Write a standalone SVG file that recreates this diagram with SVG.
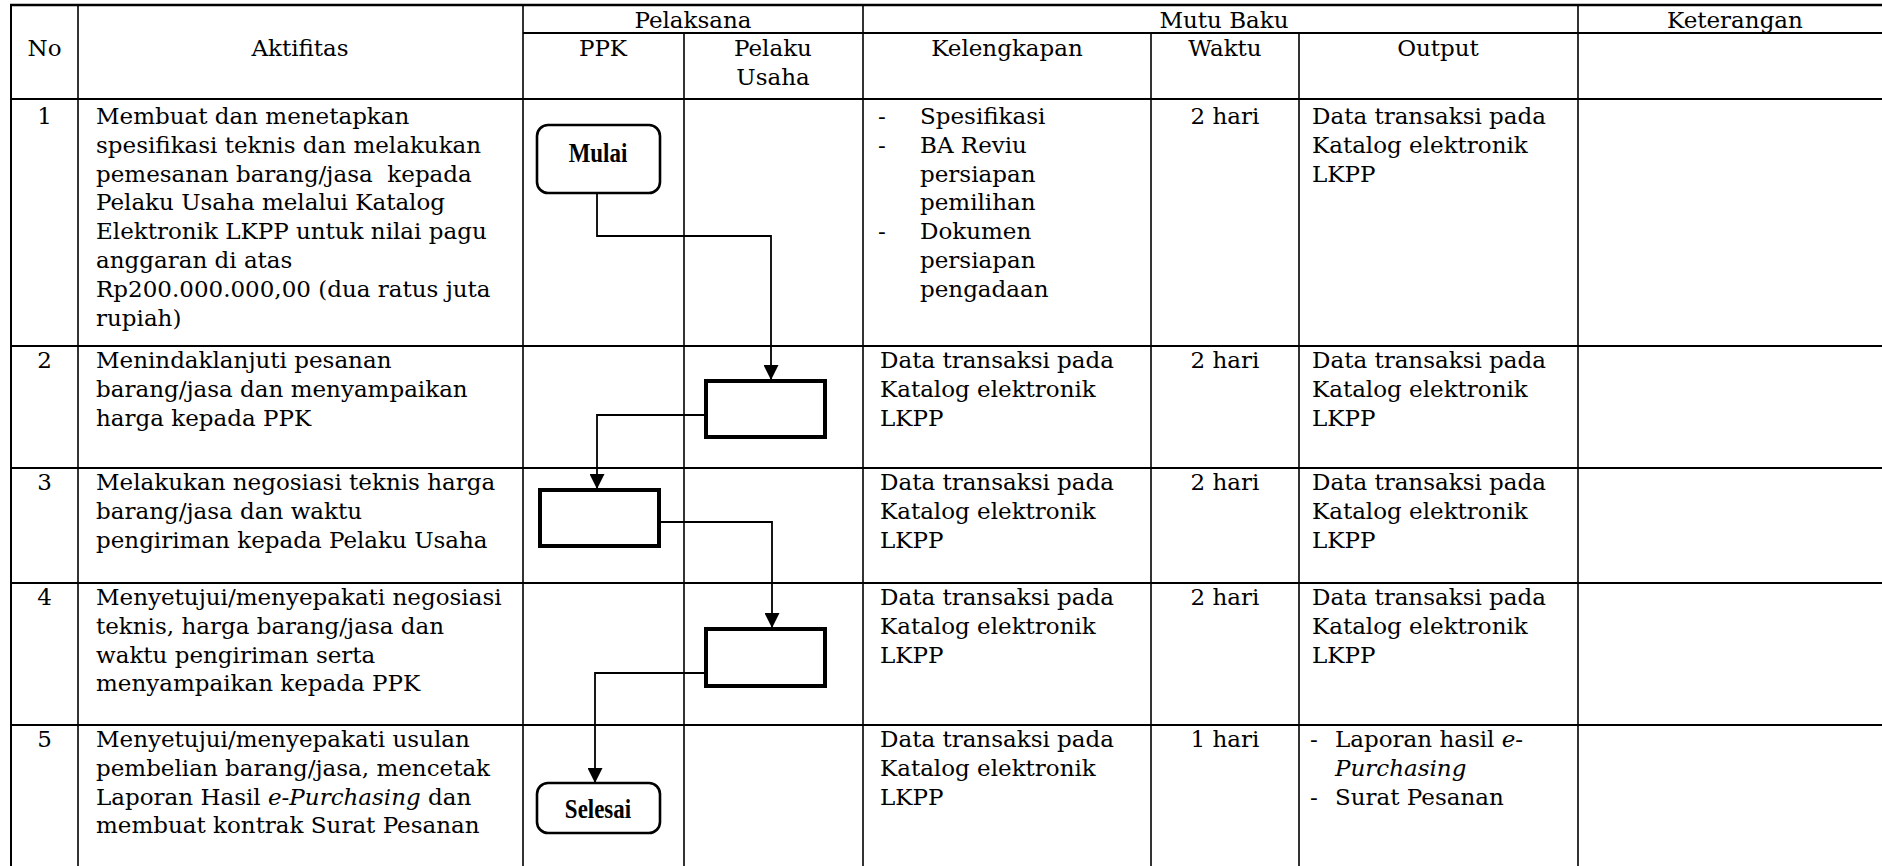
<svg xmlns="http://www.w3.org/2000/svg" width="1882" height="866" viewBox="0 0 1882 866">
<style>
.bg{fill:#fff}
.h{stroke:#000;stroke-width:2}
.v{stroke:#000;stroke-width:1.6}
.t{font-family:"DejaVu Serif","Liberation Serif",serif;font-size:23px;fill:#000}
.c{text-anchor:middle}
.i{font-style:italic}
.lbl{font-family:"Liberation Serif","Times New Roman",serif;font-weight:bold;font-size:27px;fill:#000;text-anchor:middle}
.term{fill:#fff;stroke:#000;stroke-width:2.6}
.proc{fill:#fff;stroke:#000;stroke-width:4}
.conn{fill:none;stroke:#000;stroke-width:1.8}
</style>
<defs>
<marker id="arrow" viewBox="0 0 16 16" refX="16" refY="8" markerWidth="16" markerHeight="15" markerUnits="userSpaceOnUse" orient="auto">
<path d="M0,0 L16,8 L0,16 Z" fill="#000"/>
</marker>
</defs>
<rect class="bg" x="0" y="0" width="1882" height="866"/>

<g id="grid">
<line class="h" x1="10" y1="5" x2="1882" y2="5" style="stroke-width:2.6"/>
<line class="h" x1="523" y1="33" x2="1882" y2="33"/>
<line class="h" x1="10" y1="99" x2="1882" y2="99"/>
<line class="h" x1="10" y1="346" x2="1882" y2="346"/>
<line class="h" x1="10" y1="468" x2="1882" y2="468"/>
<line class="h" x1="10" y1="583" x2="1882" y2="583"/>
<line class="h" x1="10" y1="725" x2="1882" y2="725"/>
<line class="v" x1="11" y1="4" x2="11" y2="866" style="stroke-width:2"/>
<line class="v" x1="78" y1="5" x2="78" y2="866"/>
<line class="v" x1="523" y1="5" x2="523" y2="866"/>
<line class="v" x1="684" y1="33" x2="684" y2="866"/>
<line class="v" x1="863" y1="5" x2="863" y2="866"/>
<line class="v" x1="1151" y1="33" x2="1151" y2="866"/>
<line class="v" x1="1299" y1="33" x2="1299" y2="866"/>
<line class="v" x1="1578" y1="5" x2="1578" y2="866"/>
</g>

<g id="header">
<text class="t c" x="693" y="28">Pelaksana</text>
<text class="t c" x="1224" y="28">Mutu Baku</text>
<text class="t c" x="1735" y="28">Keterangan</text>
<text class="t c" x="44.5" y="56">No</text>
<text class="t c" x="300" y="56">Aktifitas</text>
<text class="t c" x="603" y="56">PPK</text>
<text class="t c" x="773" y="56">Pelaku</text>
<text class="t c" x="773" y="84.5">Usaha</text>
<text class="t c" x="1007" y="56">Kelengkapan</text>
<text class="t c" x="1225" y="56">Waktu</text>
<text class="t c" x="1438" y="56">Output</text>
</g>

<g id="row1">
<text class="t c" x="44.5" y="124">1</text>
<text class="t" x="96" y="124">Membuat dan menetapkan</text>
<text class="t" x="96" y="152.8">spesifikasi teknis dan melakukan</text>
<text class="t" x="96" y="181.6">pemesanan barang/jasa &#160;kepada</text>
<text class="t" x="96" y="210.4">Pelaku Usaha melalui Katalog</text>
<text class="t" x="96" y="239.2">Elektronik LKPP untuk nilai pagu</text>
<text class="t" x="96" y="268">anggaran di atas</text>
<text class="t" x="96" y="296.8">Rp200.000.000,00 (dua ratus juta</text>
<text class="t" x="96" y="325.6">rupiah)</text>
<text class="t" x="878" y="124">-</text>
<text class="t" x="920" y="124">Spesifikasi</text>
<text class="t" x="878" y="152.8">-</text>
<text class="t" x="920" y="152.8">BA Reviu</text>
<text class="t" x="920" y="181.6">persiapan</text>
<text class="t" x="920" y="210.4">pemilihan</text>
<text class="t" x="878" y="239.2">-</text>
<text class="t" x="920" y="239.2">Dokumen</text>
<text class="t" x="920" y="268">persiapan</text>
<text class="t" x="920" y="296.8">pengadaan</text>
<text class="t c" x="1225" y="124">2 hari</text>
<text class="t" x="1312" y="124">Data transaksi pada</text>
<text class="t" x="1312" y="152.8">Katalog elektronik</text>
<text class="t" x="1312" y="181.6">LKPP</text>
</g>

<g id="row2">
<text class="t c" x="44.5" y="368">2</text>
<text class="t" x="96" y="368">Menindaklanjuti pesanan</text>
<text class="t" x="96" y="396.8">barang/jasa dan menyampaikan</text>
<text class="t" x="96" y="425.6">harga kepada PPK</text>
<text class="t" x="880" y="368">Data transaksi pada</text>
<text class="t" x="880" y="396.8">Katalog elektronik</text>
<text class="t" x="880" y="425.6">LKPP</text>
<text class="t c" x="1225" y="368">2 hari</text>
<text class="t" x="1312" y="368">Data transaksi pada</text>
<text class="t" x="1312" y="396.8">Katalog elektronik</text>
<text class="t" x="1312" y="425.6">LKPP</text>
</g>

<g id="row3">
<text class="t c" x="44.5" y="490">3</text>
<text class="t" x="96" y="490">Melakukan negosiasi teknis harga</text>
<text class="t" x="96" y="518.8">barang/jasa dan waktu</text>
<text class="t" x="96" y="547.6">pengiriman kepada Pelaku Usaha</text>
<text class="t" x="880" y="490">Data transaksi pada</text>
<text class="t" x="880" y="518.8">Katalog elektronik</text>
<text class="t" x="880" y="547.6">LKPP</text>
<text class="t c" x="1225" y="490">2 hari</text>
<text class="t" x="1312" y="490">Data transaksi pada</text>
<text class="t" x="1312" y="518.8">Katalog elektronik</text>
<text class="t" x="1312" y="547.6">LKPP</text>
</g>

<g id="row4">
<text class="t c" x="44.5" y="605">4</text>
<text class="t" x="96" y="605">Menyetujui/menyepakati negosiasi</text>
<text class="t" x="96" y="633.8">teknis, harga barang/jasa dan</text>
<text class="t" x="96" y="662.6">waktu pengiriman serta</text>
<text class="t" x="96" y="691.4">menyampaikan kepada PPK</text>
<text class="t" x="880" y="605">Data transaksi pada</text>
<text class="t" x="880" y="633.8">Katalog elektronik</text>
<text class="t" x="880" y="662.6">LKPP</text>
<text class="t c" x="1225" y="605">2 hari</text>
<text class="t" x="1312" y="605">Data transaksi pada</text>
<text class="t" x="1312" y="633.8">Katalog elektronik</text>
<text class="t" x="1312" y="662.6">LKPP</text>
</g>

<g id="row5">
<text class="t c" x="44.5" y="747">5</text>
<text class="t" x="96" y="747">Menyetujui/menyepakati usulan</text>
<text class="t" x="96" y="775.8">pembelian barang/jasa, mencetak</text>
<text class="t" x="96" y="804.6">Laporan Hasil <tspan class="i">e-Purchasing</tspan> dan</text>
<text class="t" x="96" y="833.4">membuat kontrak Surat Pesanan</text>
<text class="t" x="880" y="747">Data transaksi pada</text>
<text class="t" x="880" y="775.8">Katalog elektronik</text>
<text class="t" x="880" y="804.6">LKPP</text>
<text class="t c" x="1225" y="747">1 hari</text>
<text class="t" x="1310" y="747">-</text>
<text class="t" x="1335" y="747">Laporan hasil <tspan class="i">e-</tspan></text>
<text class="t i" x="1335" y="775.8">Purchasing</text>
<text class="t" x="1310" y="804.6">-</text>
<text class="t" x="1335" y="804.6">Surat Pesanan</text>
</g>

<g id="connectors">
<path class="conn" d="M597,193 V236 H771 V380" marker-end="url(#arrow)"/>
<path class="conn" d="M706,415 H597 V489" marker-end="url(#arrow)"/>
<path class="conn" d="M660,522 H772 V628" marker-end="url(#arrow)"/>
<path class="conn" d="M706,673 H595 V783" marker-end="url(#arrow)"/>
</g>

<g id="mulai">
<rect class="term" x="537" y="125" width="123" height="68" rx="11"/>
<text class="lbl" transform="translate(598,162) scale(0.85,1)">Mulai</text>
</g>
<g id="box2">
<rect class="proc" x="706" y="381" width="119" height="56"/>
</g>
<g id="box3">
<rect class="proc" x="540" y="490" width="119" height="56"/>
</g>
<g id="box4">
<rect class="proc" x="706" y="629" width="119" height="57"/>
</g>
<g id="selesai">
<rect class="term" x="537" y="783" width="123" height="50" rx="11"/>
<text class="lbl" transform="translate(598,818) scale(0.85,1)">Selesai</text>
</g>
</svg>
